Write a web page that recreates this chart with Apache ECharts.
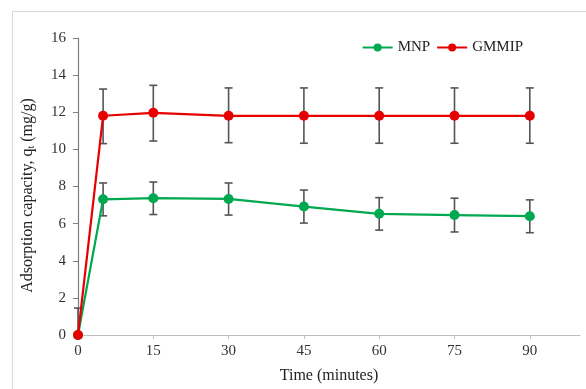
<!DOCTYPE html>
<html>
<head>
<meta charset="utf-8">
<script src="https://cdn.jsdelivr.net/npm/echarts@6/dist/echarts.min.js"></script>
<style>
  html, body { margin: 0; padding: 0; background: #fff; }
  #chart { width: 586px; height: 389px; }
</style>
</head>
<body>
<div id="chart"></div>
<script>
// time points (minutes)
const times = [0, 5, 15, 30, 45, 60, 75, 90];
const xTicks = [0, 15, 30, 45, 60, 75, 90];

// MNP
const mnpValues = [0, 7.31, 7.37, 7.33, 6.92, 6.53, 6.46, 6.40];
const mnpLow    = [0, 6.42, 6.49, 6.46, 6.03, 5.65, 5.55, 5.51];
const mnpHigh   = [0, 8.19, 8.24, 8.19, 7.81, 7.40, 7.37, 7.28];

// GMMIP
const gmmipValues = [0, 11.81, 11.97, 11.81, 11.81, 11.81, 11.81, 11.81];
const gmmipLow    = [0, 10.31, 10.45, 10.36, 10.33, 10.33, 10.33, 10.33];
const gmmipHigh   = [1.45, 13.25, 13.45, 13.31, 13.31, 13.31, 13.31, 13.31];

const GREEN = "#00a84f";
const RED = "#e60000";
const BAR = "#555";
const FONT = "Liberation Serif";

const chart = echarts.init(document.getElementById("chart"));

const pairs = (vals) => times.map((t, i) => [t, vals[i]]);
const errData = (low, high) => times.map((t, i) => [t, low[i], high[i]]);

function renderErr(params, api) {
  const x = api.value(0);
  const lo = api.coord([x, api.value(1)]);
  const hi = api.coord([x, api.value(2)]);
  const cap = 4;
  const style = { stroke: BAR, lineWidth: 1.6 };
  return {
    type: "group",
    children: [
      { type: "line", shape: { x1: hi[0], y1: hi[1], x2: lo[0], y2: lo[1] }, style },
      { type: "line", shape: { x1: hi[0] - cap, y1: hi[1], x2: hi[0] + cap, y2: hi[1] }, style },
      { type: "line", shape: { x1: lo[0] - cap, y1: lo[1], x2: lo[0] + cap, y2: lo[1] }, style }
    ]
  };
}

const option = {
  backgroundColor: "#fff",
  animation: false,
  textStyle: { fontFamily: FONT },
  graphic: [
    { type: "line", shape: { x1: 12, y1: 11.5, x2: 586, y2: 11.5 }, style: { stroke: "#d9d9d9", lineWidth: 1 } },
    { type: "line", shape: { x1: 12.5, y1: 11, x2: 12.5, y2: 389 }, style: { stroke: "#d9d9d9", lineWidth: 1 } }
  ],
  legend: {
    top: 35,
    right: 58,
    itemWidth: 30,
    itemHeight: 10,
    itemGap: 6,
    textStyle: { fontFamily: FONT, fontSize: 15, color: "#222" },
    data: ["MNP", "GMMIP"]
  },
  grid: { left: 78, right: 6, top: 38, bottom: 53 },
  xAxis: {
    type: "value",
    min: 0,
    max: 100,
    interval: 15,
    name: "Time (minutes)",
    nameLocation: "middle",
    nameGap: 33,
    nameTextStyle: { fontFamily: FONT, fontSize: 16, color: "#222" },
    axisLine: { lineStyle: { color: "#bfbfbf", width: 1.2 } },
    axisTick: { show: true, length: 4, lineStyle: { color: "#bfbfbf" }, customValues: xTicks },
    axisLabel: { fontFamily: FONT, fontSize: 15, color: "#333", margin: 9, customValues: xTicks },
    splitLine: { show: false }
  },
  yAxis: {
    type: "value",
    min: 0,
    max: 16,
    interval: 2,
    name: "{a|Adsorption capacity, q}{s|t}{a| (mg/g)}",
    nameLocation: "middle",
    nameRotate: 90,
    nameGap: 42,
    nameTextStyle: {
      padding: [0, 18, 0, 0],
      rich: {
        a: { fontFamily: FONT, fontSize: 16, color: "#222" },
        s: { fontFamily: FONT, fontSize: 10, color: "#222", verticalAlign: "bottom", padding: [7, 0, 0, 0] }
      }
    },
    axisLine: { show: true, lineStyle: { color: "#7f7f7f", width: 1.2 } },
    axisTick: { show: true, inside: false, length: 5, lineStyle: { color: "#7f7f7f" } },
    axisLabel: { fontFamily: FONT, fontSize: 15, color: "#333", margin: 12 },
    splitLine: { show: false }
  },
  series: [
    {
      name: "MNP",
      type: "line",
      data: pairs(mnpValues),
      color: GREEN,
      symbol: "circle",
      symbolSize: 10,
      lineStyle: { width: 2.2, color: GREEN },
      itemStyle: { color: GREEN },
      z: 3
    },
    {
      name: "GMMIP",
      type: "line",
      data: pairs(gmmipValues),
      color: RED,
      symbol: "circle",
      symbolSize: 10,
      lineStyle: { width: 2.2, color: RED },
      itemStyle: { color: RED },
      z: 4
    },
    {
      type: "custom",
      renderItem: renderErr,
      data: errData(mnpLow, mnpHigh).slice(1),
      z: 2,
      silent: true
    },
    {
      type: "custom",
      renderItem: renderErr,
      data: errData(gmmipLow, gmmipHigh),
      z: 2,
      silent: true
    }
  ]
};

chart.setOption(option);
</script>
</body>
</html>
